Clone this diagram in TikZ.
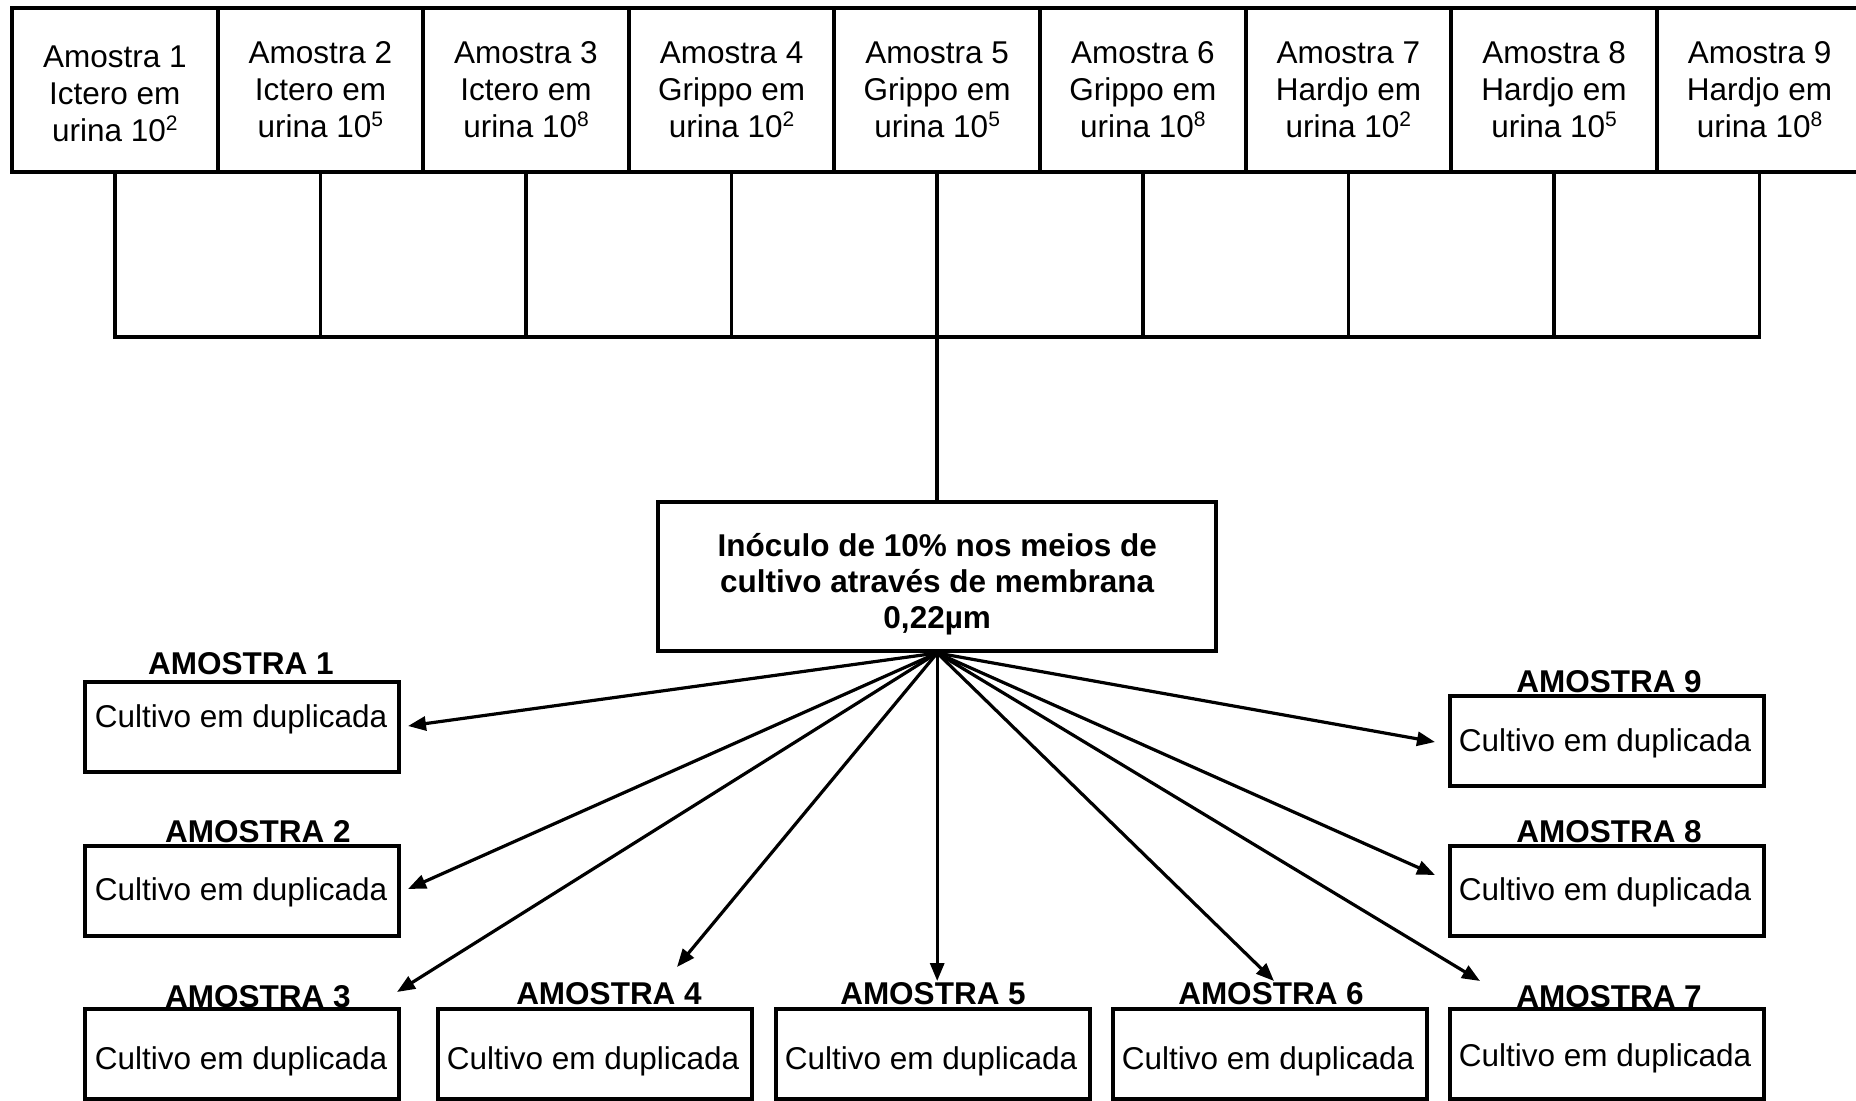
\documentclass[tikz,border=0pt]{standalone}
\usepackage{fontspec}
\setmainfont{Liberation Sans}
\usetikzlibrary{arrows.meta}
\newcommand{\pw}[1]{\raisebox{5.5pt}{\fontsize{10.5pt}{10.5pt}\selectfont #1}}
\begin{document}
\begin{tikzpicture}[x=0.5pt,y=-0.5pt,
  topbox/.style={draw,line width=2pt,minimum width=102.8pt,minimum height=82pt,inner sep=0pt,align=center,
    font=\fontsize{15.75pt}{18.5pt}\selectfont},
  toptext/.style={inner sep=0pt,align=center,font=\fontsize{15.75pt}{18.5pt}\selectfont},
  centbox/.style={draw,line width=2pt,minimum width=279pt,minimum height=74.5pt,inner sep=0pt},
  centtext/.style={inner sep=0pt,align=center,font=\fontsize{15.75pt}{18pt}\selectfont\bfseries},
  cbox/.style={draw,line width=2pt,minimum width=157pt,minimum height=45pt,inner sep=0pt},
  ctext/.style={inner sep=1pt,font=\fontsize{15.75pt}{18pt}\selectfont},
  lab/.style={inner sep=1pt,font=\fontsize{15.75pt}{18pt}\selectfont\bfseries},
  comb/.style={line width=1.75pt},
  arr/.style={line width=1.6pt,-{Triangle[length=9pt,width=7pt]}}
]
\useasboundingbox (0,0) rectangle (1856,1101);
% top boxes
\node[topbox] (t1) at (114.8,90) {};
\node[toptext] (tt1) at (114.8,94) {Amostra 1\\Ictero em\\urina 10\pw{2}};
\node[topbox] (t2) at (320.4,90) {Amostra 2\\Ictero em\\urina 10\pw{5}};
\node[topbox] (t3) at (526.0,90) {Amostra 3\\Ictero em\\urina 10\pw{8}};
\node[topbox] (t4) at (731.6,90) {Amostra 4\\Grippo em\\urina 10\pw{2}};
\node[topbox] (t5) at (937.2,90) {Amostra 5\\Grippo em\\urina 10\pw{5}};
\node[topbox] (t6) at (1142.8,90) {Amostra 6\\Grippo em\\urina 10\pw{8}};
\node[topbox] (t7) at (1348.4,90) {Amostra 7\\Hardjo em\\urina 10\pw{2}};
\node[topbox] (t8) at (1554.0,90) {Amostra 8\\Hardjo em\\urina 10\pw{5}};
\node[topbox] (t9) at (1759.6,90) {Amostra 9\\Hardjo em\\urina 10\pw{8}};
% comb
\coordinate (cm) at (937.2,337);
\draw[comb] (t1.south) -- (t1.south |- cm) -- (t9.south |- cm) -- (t9.south);
\foreach \i in {2,...,8} {\draw[comb] (t\i.south) -- (t\i.south |- cm);}
% central box
\node[centbox] (c) at (937.2,576.5) {};
\node[centtext] (ct) at (937.2,584) {In\'oculo de 10\% nos meios de\\cultivo atrav\'es de membrana\\0,22µm};
\draw[comb] (t5.south |- cm) -- (c.north);
% lower boxes
\node[cbox] (b1) at (242,727) {};
\node[cbox] (b2) at (242,891) {};
\node[cbox] (b3) at (242,1054) {};
\node[cbox] (b4) at (595,1054) {};
\node[cbox] (b5) at (933,1054) {};
\node[cbox] (b6) at (1270,1054) {};
\node[cbox] (b7) at (1607,1054) {};
\node[cbox] (b8) at (1607,891) {};
\node[cbox] (b9) at (1607,741) {};
% texts
\node[ctext] (x1) at (241,719) {Cultivo em duplicada};
\node[ctext] (x2) at (241,892) {Cultivo em duplicada};
\node[ctext] (x3) at (241,1061) {Cultivo em duplicada};
\node[ctext] (x4) at (593,1061) {Cultivo em duplicada};
\node[ctext] (x5) at (931,1061) {Cultivo em duplicada};
\node[ctext] (x6) at (1268,1061) {Cultivo em duplicada};
\node[ctext] (x7) at (1605,1058) {Cultivo em duplicada};
\node[ctext] (x8) at (1605,892) {Cultivo em duplicada};
\node[ctext] (x9) at (1605,743) {Cultivo em duplicada};
% labels
\node[lab] (l1) at (241,664) {AMOSTRA 1};
\node[lab] (l2) at (258,832) {AMOSTRA 2};
\node[lab] (l3) at (258,997) {AMOSTRA 3};
\node[lab] (l4) at (609,994) {AMOSTRA 4};
\node[lab] (l5) at (933,994) {AMOSTRA 5};
\node[lab] (l6) at (1271,994) {AMOSTRA 6};
\node[lab] (l7) at (1609,997) {AMOSTRA 7};
\node[lab] (l8) at (1609,832) {AMOSTRA 8};
\node[lab] (l9) at (1609,682) {AMOSTRA 9};
% arrow ends
\coordinate (e1) at (408,726);
\coordinate (e2) at (408,889);
\coordinate (e3) at (397,992);
\coordinate (e4) at (677,967);
\coordinate (e5) at (937.2,981);
\coordinate (e6) at (1274,981);
\coordinate (e7) at (1480,981);
\coordinate (e8) at (1435,875);
\coordinate (e9) at (1435,742);
\foreach \i in {1,...,9} {\draw[arr] (c.south) -- (e\i);}
\end{tikzpicture}
\end{document}
